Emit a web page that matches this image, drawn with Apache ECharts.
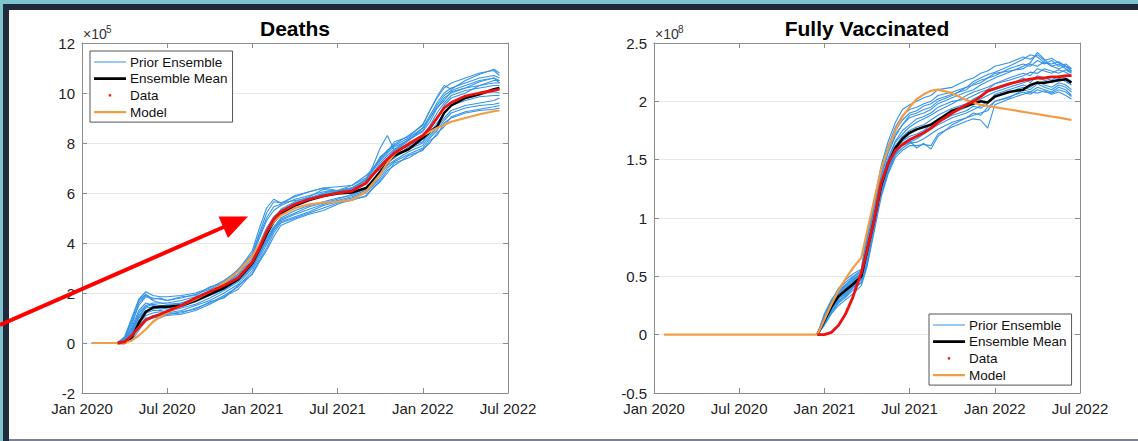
<!DOCTYPE html>
<html><head><meta charset="utf-8">
<script src="https://cdn.jsdelivr.net/npm/echarts@6/dist/echarts.min.js"></script>
<style>
html,body{margin:0;padding:0;width:1138px;height:441px;overflow:hidden;background:#7ec4cc;}
#navy{position:absolute;left:3px;top:4px;width:1135px;height:437px;background:#1f2b3c;}
#white{position:absolute;left:9px;top:10px;width:1129px;height:429px;background:#fff;}
#gray{position:absolute;left:9px;top:439px;width:1129px;height:2px;background:#7c8093;}
#chart{position:absolute;left:0;top:0;width:1138px;height:441px;}
</style></head>
<body>
<div id="navy"></div><div id="white"></div><div id="gray"></div>
<div id="chart"></div>
<script>
// ---- tick labels (x in months since Jan 2020) ----
const xTickLabels = ['Jan 2020','Jul 2020','Jan 2021','Jul 2021','Jan 2022','Jul 2022'];

// ---- Deaths (units of 1e5) ----
const deathsMonths = [0.7,2.5,3.0,3.5,4.0,4.5,5.0,5.5,6.0,7,8,9,10,11,12,12.5,13,13.5,14,15,16,17,18,19,20,20.5,21,21.5,22,23,24,24.5,25,25.5,26,27,28,29,29.4];
const deathsData  = [null,0,0.05,0.3,0.62,0.92,1.05,1.15,1.27,1.5,1.8,2.05,2.3,2.6,3.25,3.8,4.45,4.95,5.25,5.55,5.75,5.88,6.0,6.08,6.4,6.75,7.05,7.35,7.6,7.95,8.3,8.6,9.0,9.4,9.62,9.88,10.0,10.1,10.15];
const deathsMean  = [null,0,0,0.2,0.8,1.25,1.42,1.45,1.45,1.5,1.7,1.95,2.2,2.55,3.2,3.75,4.35,4.85,5.15,5.5,5.72,5.88,5.98,6.02,6.2,6.5,6.85,7.2,7.5,7.75,8.2,8.45,8.65,9.2,9.5,9.8,9.95,10.15,10.2];
const deathsModel = [0,0,0,0.1,0.3,0.55,0.85,1.05,1.2,1.5,1.75,2.05,2.4,2.85,3.5,3.95,4.45,4.85,5.1,5.4,5.55,5.62,5.65,5.72,6.05,6.4,6.75,7.2,7.55,8.0,8.3,8.45,8.6,8.72,8.85,9.0,9.15,9.27,9.3];
const deathsEns1  = [0,0,0.25,1.0,1.75,2.05,1.9,1.85,1.85,1.9,2.0,2.2,2.5,2.9,3.7,4.6,5.4,5.75,5.6,5.85,6.05,6.2,6.25,6.3,6.6,7.0,7.4,7.7,7.9,8.2,8.6,9.1,9.6,10.0,10.2,10.4,10.6,10.7,10.6];
const deathsEns2  = [0,0,0.2,0.8,1.5,1.85,1.8,1.75,1.7,1.8,1.95,2.15,2.4,2.75,3.5,4.2,4.9,5.3,5.5,5.75,5.9,6.05,6.1,6.2,6.5,6.9,7.3,7.6,7.85,8.1,8.5,9.0,9.5,9.9,10.1,10.3,10.5,10.6,10.5];
const deathsEns3  = [0,0,0,0.1,0.5,0.9,1.0,1.05,1.1,1.15,1.3,1.55,1.85,2.15,2.8,3.3,3.8,4.4,4.8,5.0,5.2,5.4,5.6,5.7,5.9,6.2,6.5,6.9,7.1,7.5,7.7,8.1,8.3,8.8,9.0,9.2,9.3,9.35,9.4];
const deathsEns4  = [0,0,0.05,0.3,0.8,1.1,1.2,1.25,1.2,1.3,1.5,1.7,2.0,2.35,3.0,3.5,4.1,4.6,4.9,5.15,5.35,5.55,5.7,5.85,6.05,6.35,6.7,7.1,7.3,7.65,7.9,8.3,8.6,9.0,9.3,9.5,9.6,9.7,9.8];
const deathsEns5  = [0,0,0.1,0.5,1.2,1.5,1.6,1.6,1.55,1.6,1.75,2.0,2.3,2.65,3.3,3.9,4.5,4.95,5.25,5.5,5.7,5.9,6.0,6.1,6.35,6.7,7.1,7.4,7.7,8.0,8.3,8.7,9.2,9.6,9.9,10.1,10.2,10.3,10.3];
const deathsEns6  = [0,0,0.15,0.6,1.3,1.6,1.5,1.45,1.45,1.55,1.8,2.05,2.3,2.6,3.2,3.7,4.3,4.8,5.2,5.55,5.8,5.95,6.05,6.2,6.5,7.1,7.8,8.3,7.7,8.1,8.6,9.0,9.4,9.8,10.0,10.2,10.3,10.4,10.4];
const deathsEns7  = [0,0,0.1,0.7,1.6,1.9,1.7,1.6,1.6,1.7,1.85,2.1,2.45,2.85,3.6,4.4,5.2,5.65,5.6,5.7,5.8,5.95,6.05,6.15,6.4,6.7,7.0,7.3,7.6,7.9,8.2,8.5,9.0,9.5,9.8,10.0,10.3,10.5,10.5];
const deathsEns8  = [0,0,0.05,0.4,1.0,1.3,1.35,1.4,1.35,1.45,1.65,1.9,2.15,2.5,3.1,3.6,4.2,4.65,5.0,5.3,5.5,5.65,5.8,5.9,6.1,6.45,6.85,7.2,7.45,7.75,8.0,8.4,8.8,9.2,9.5,9.7,9.85,9.9,9.9];
const deathsEns9  = [0,0,0.15,0.55,1.1,1.45,1.55,1.5,1.5,1.6,1.8,2.05,2.35,2.7,3.4,4.0,4.6,5.05,5.3,5.6,5.8,6.0,6.1,6.2,6.55,6.95,7.35,7.7,7.95,8.3,8.7,9.3,9.8,10.2,10.4,10.6,10.8,10.9,10.7];
const deathsEns10 = [0,0,0.05,0.25,0.7,1.0,1.05,1.1,1.15,1.2,1.4,1.6,1.9,2.25,2.9,3.4,3.95,4.5,4.85,5.05,5.25,5.5,5.65,5.8,6.0,6.3,6.6,7.0,7.25,7.55,7.8,8.2,8.5,8.9,9.2,9.4,9.5,9.55,9.6];
const deathsEns11 = [0,0,0.2,0.9,1.7,1.95,1.75,1.8,1.7,1.85,1.9,2.25,2.4,2.95,3.55,4.3,5.0,5.45,5.55,5.9,6.05,6.2,6.1,6.3,6.7,6.95,7.45,7.65,8.05,8.25,8.75,9.3,9.85,10.3,10.15,10.5,10.75,10.95,10.8];
const deathsEns12 = [0,0,0.02,0.2,0.65,0.95,1.1,1.0,1.15,1.25,1.35,1.65,1.8,2.3,2.75,3.25,3.7,4.25,4.7,4.95,5.15,5.3,5.55,5.75,5.85,6.2,6.45,6.8,7.2,7.4,7.75,8.0,8.4,8.65,9.05,9.25,9.35,9.45,9.5];
const deathsEns13 = [0,0,0.12,0.45,1.05,1.4,1.45,1.35,1.4,1.55,1.7,1.95,2.25,2.55,3.3,3.85,4.5,4.9,5.35,5.65,5.85,6.15,6.05,6.2,6.4,6.8,7.2,7.5,7.75,8.15,8.45,8.85,9.4,9.7,10.05,10.2,10.45,10.6,10.4];
const deathsEns14 = [0,0,0.03,0.35,0.9,1.2,1.3,1.3,1.25,1.4,1.55,1.8,2.1,2.45,3.05,3.55,4.05,4.55,4.95,5.2,5.45,5.6,5.75,5.95,6.15,6.55,6.9,7.25,7.4,7.85,8.05,8.55,8.95,9.4,9.6,9.8,10.0,10.05,10.0];
const deathsEnsemble = [deathsEns1,deathsEns2,deathsEns3,deathsEns4,deathsEns5,deathsEns6,deathsEns7,deathsEns8,deathsEns9,deathsEns10,deathsEns11,deathsEns12,deathsEns13,deathsEns14];

// ---- Fully vaccinated (units of 1e8) ----
const vaxMonths = [0.7,11.5,12.0,12.5,13.0,13.5,14.0,14.6,15.0,15.5,16.0,16.5,17.0,17.5,18.0,18.5,19.0,19.5,20.0,21.0,22.0,22.5,23.0,23.5,24.0,25.0,26.0,26.5,27.0,27.5,28.0,28.5,29.0,29.4];
const vaxData  = [null,0,0,0.02,0.08,0.18,0.32,0.53,0.72,0.98,1.3,1.47,1.58,1.63,1.67,1.7,1.73,1.77,1.82,1.9,1.97,2.0,2.04,2.09,2.11,2.15,2.18,2.19,2.2,2.2,2.21,2.21,2.22,2.22];
const vaxMean  = [null,0,0.12,0.24,0.33,0.38,0.43,0.5,0.72,0.98,1.28,1.47,1.6,1.68,1.73,1.76,1.78,1.8,1.84,1.92,1.96,1.98,2.0,1.99,2.04,2.08,2.1,2.14,2.16,2.16,2.17,2.18,2.19,2.16];
const vaxModel = [0,0,0.13,0.26,0.38,0.48,0.57,0.66,0.88,1.15,1.42,1.6,1.75,1.87,1.95,2.02,2.06,2.09,2.1,2.07,2.01,1.99,1.97,1.96,1.95,1.93,1.91,1.9,1.89,1.88,1.87,1.86,1.85,1.84];
const vaxEns1  = [null,0,0.18,0.3,0.38,0.45,0.5,0.55,0.85,1.12,1.42,1.62,1.78,1.88,1.93,1.95,1.98,2.0,2.05,2.08,2.12,2.17,2.2,2.23,2.25,2.3,2.36,2.4,2.38,2.33,2.32,2.34,2.3,2.26];
const vaxEns2  = [null,0,0.08,0.18,0.25,0.3,0.35,0.42,0.58,0.88,1.18,1.38,1.52,1.58,1.62,1.62,1.63,1.62,1.72,1.78,1.83,1.85,1.84,1.77,1.97,2.02,2.06,2.08,2.07,2.09,2.06,2.08,2.05,2.02];
const vaxEns3  = [null,0,0.12,0.24,0.32,0.38,0.44,0.5,0.7,1.0,1.3,1.5,1.65,1.72,1.78,1.82,1.85,1.88,1.92,1.98,2.05,2.08,2.1,2.12,2.15,2.2,2.24,2.22,2.28,2.26,2.24,2.27,2.25,2.22];
const vaxEns4  = [null,0,0.1,0.2,0.28,0.34,0.4,0.47,0.62,0.92,1.22,1.42,1.56,1.62,1.65,1.68,1.72,1.76,1.8,1.86,1.9,1.93,1.96,2.0,2.05,2.08,2.12,2.1,2.15,2.12,2.1,2.14,2.12,2.08];
const vaxEns5  = [null,0,0.15,0.27,0.36,0.42,0.47,0.53,0.78,1.06,1.36,1.56,1.7,1.8,1.86,1.88,1.9,1.93,1.98,2.03,2.08,2.1,2.14,2.17,2.2,2.25,2.3,2.33,2.42,2.36,2.3,2.32,2.28,2.25];
const vaxEns6  = [null,0,0.11,0.22,0.3,0.36,0.42,0.48,0.66,0.96,1.26,1.46,1.6,1.66,1.7,1.72,1.75,1.8,1.85,1.9,1.95,1.98,2.02,2.05,2.08,2.12,2.16,2.18,2.2,2.18,2.16,2.2,2.17,2.14];
const vaxEns7  = [null,0,0.14,0.26,0.35,0.4,0.46,0.52,0.74,1.04,1.34,1.52,1.66,1.75,1.8,1.85,1.87,1.9,1.95,2.0,2.02,2.05,2.08,2.1,2.15,2.18,2.22,2.25,2.24,2.28,2.26,2.24,2.27,2.24];
const vaxEns8  = [null,0,0.09,0.19,0.27,0.32,0.38,0.45,0.6,0.9,1.2,1.4,1.54,1.6,1.64,1.65,1.68,1.72,1.76,1.82,1.86,1.88,1.9,1.92,2.0,2.04,2.08,2.06,2.1,2.08,2.07,2.1,2.08,2.04];
const vaxEns9  = [null,0,0.16,0.28,0.37,0.43,0.49,0.54,0.82,1.1,1.4,1.6,1.75,1.84,1.9,1.92,1.96,1.98,2.02,2.06,2.1,2.15,2.18,2.2,2.22,2.28,2.32,2.3,2.35,2.32,2.35,2.3,2.32,2.28];
const vaxEns10 = [null,0,0.13,0.25,0.33,0.39,0.45,0.51,0.72,1.02,1.32,1.5,1.62,1.7,1.75,1.78,1.8,1.84,1.88,1.94,1.98,2.02,2.05,2.08,2.1,2.14,2.2,2.16,2.22,2.2,2.18,2.22,2.2,2.17];
const vaxEns11 = [null,0,0.17,0.29,0.4,0.47,0.52,0.56,0.88,1.15,1.45,1.66,1.82,1.93,1.97,2.0,2.03,2.05,2.1,2.12,2.18,2.2,2.24,2.26,2.3,2.33,2.38,2.36,2.4,2.35,2.37,2.33,2.3,2.28];
const vaxEns12 = [null,0,0.1,0.21,0.29,0.33,0.4,0.44,0.6,0.9,1.22,1.4,1.55,1.63,1.66,1.6,1.64,1.59,1.7,1.8,1.86,1.9,1.88,1.95,2.0,2.03,2.1,2.08,2.12,2.1,2.08,2.12,2.1,2.05];
const vaxEns13 = [null,0,0.15,0.27,0.36,0.41,0.48,0.52,0.8,1.08,1.38,1.58,1.72,1.8,1.88,1.9,1.93,1.95,2.0,2.05,2.12,2.14,2.16,2.2,2.24,2.26,2.28,2.32,2.3,2.34,2.3,2.28,2.3,2.26];
const vaxEns14 = [null,0,0.1,0.22,0.31,0.35,0.41,0.49,0.64,0.94,1.24,1.44,1.58,1.64,1.68,1.7,1.74,1.78,1.82,1.88,1.92,1.96,1.94,1.98,2.06,2.1,2.14,2.12,2.17,2.14,2.12,2.16,2.14,2.1];
const vaxEnsemble = [vaxEns1,vaxEns2,vaxEns3,vaxEns4,vaxEns5,vaxEns6,vaxEns7,vaxEns8,vaxEns9,vaxEns10,vaxEns11,vaxEns12,vaxEns13,vaxEns14];

// ---- styling ----
const FONT = '"Liberation Sans", Arial, Helvetica, sans-serif';
const C_ENS = '#3594e6', C_MEAN = '#000000', C_DATA = '#ee1111', C_MODEL = '#f19d45';
const AX = '#8c8c8c';

function pairs(xs, ys){ return xs.map((x,i)=>[x, ys[i]]); }
function lineIcon(t){
  const a=(7-t/2).toFixed(2), b=(7+t/2).toFixed(2);
  return 'path://M0,0L32,0L32,0.01L0,0.01Z M0,'+a+'L32,'+a+'L32,'+b+'L0,'+b+'Z M0,13.99L32,13.99L32,14L0,14Z';
}
const dotIcon = 'path://M0,0L32,0L32,0.01L0,0.01Z M14.8,5.8L17.2,5.8L17.2,8.2L14.8,8.2Z M0,13.99L32,13.99L32,14L0,14Z';

const grids = [
  {left:82, top:43, width:426, height:350},
  {left:654, top:43, width:426, height:350}
];
const yScales = [{min:-2,max:12,interval:2},{min:-0.5,max:2.5,interval:0.5}];

const xAxes = [], yAxes = [];
[0,1].forEach(g=>{
  xAxes.push({gridIndex:g,type:'value',min:0,max:30,interval:6,position:'bottom',
    axisLine:{show:true,onZero:false,lineStyle:{color:AX,width:1}},
    axisTick:{show:true,inside:true,length:5,lineStyle:{color:AX}},
    axisLabel:{show:true,formatter:v=>xTickLabels[Math.round(v/6)],fontSize:15,color:'#222',margin:8,fontFamily:FONT},
    splitLine:{show:false}});
  xAxes.push({gridIndex:g,type:'value',min:0,max:30,interval:6,position:'top',
    axisLine:{show:true,onZero:false,lineStyle:{color:AX,width:1}},
    axisTick:{show:true,inside:true,length:5,lineStyle:{color:AX}},
    axisLabel:{show:false},splitLine:{show:false}});
  yAxes.push(Object.assign({gridIndex:g,type:'value',position:'left',
    axisLine:{show:true,onZero:false,lineStyle:{color:AX,width:1}},
    axisTick:{show:true,inside:true,length:5,lineStyle:{color:AX}},
    axisLabel:{show:true,fontSize:15,color:'#222',margin:7,fontFamily:FONT},
    splitLine:{show:true,lineStyle:{color:'#e8e8e8',width:1}}}, yScales[g]));
  yAxes.push(Object.assign({gridIndex:g,type:'value',position:'right',
    axisLine:{show:true,onZero:false,lineStyle:{color:AX,width:1}},
    axisTick:{show:true,inside:true,length:5,lineStyle:{color:AX}},
    axisLabel:{show:false},splitLine:{show:false}}, yScales[g]));
});

function lineSeries(name, xs, ys, g, color, width, z){
  return {type:'line', name, xAxisIndex:g*2, yAxisIndex:g*2, data:pairs(xs,ys),
    symbol:'none', showSymbol:false, color, lineStyle:{color, width}, z,
    animation:false, silent:true, connectNulls:false};
}
const series = [];
[[deathsMonths, deathsEnsemble, deathsMean, deathsModel, deathsData],
 [vaxMonths, vaxEnsemble, vaxMean, vaxModel, vaxData]].forEach((set,g)=>{
  const [xs, ens, mean, model, data] = set;
  ens.forEach(e=>series.push(lineSeries('Prior Ensemble', xs, e, g, C_ENS, 1.1, 2)));
  series.push(lineSeries('Ensemble Mean', xs, mean, g, C_MEAN, 2.5, 3));
  series.push(lineSeries('Model', xs, model, g, C_MODEL, 2.2, 4));
  series.push(lineSeries('Data', xs, data, g, C_DATA, 2.8, 5));
});

const legendData = [
  {name:'Prior Ensemble', icon:lineIcon(1.2)},
  {name:'Ensemble Mean', icon:lineIcon(2.8)},
  {name:'Data', icon:dotIcon},
  {name:'Model', icon:lineIcon(2.2)}
];
function legendAt(left, top){
  return {left, top, orient:'vertical', data:legendData, itemWidth:32, itemHeight:14, itemGap:2.7,
    padding:[4,5,3,4], backgroundColor:'#fff', borderColor:'#555', borderWidth:1, borderRadius:0,
    selectedMode:false, itemStyle:{borderWidth:0},
    textStyle:{fontSize:13.5, color:'#111', fontFamily:FONT, padding:[0,0,0,-1]}};
}

function txt(text, x, y, font, fill, align, valign){
  return {type:'text', x, y, z:50, silent:true,
    style:{text, font, fill, align, verticalAlign:valign, textAlign:align, textVerticalAlign:valign}};
}
const graphic = [
  txt('Deaths', 295, 28, 'bold 21px '+FONT, '#000', 'center', 'middle'),
  txt('Fully Vaccinated', 867, 28, 'bold 21px '+FONT, '#000', 'center', 'middle'),
  txt('\u00d710', 83, 34, '14px '+FONT, '#333', 'left', 'middle'),
  txt('5', 106, 29, '10px '+FONT, '#333', 'left', 'middle'),
  txt('\u00d710', 655, 34, '14px '+FONT, '#333', 'left', 'middle'),
  txt('8', 678, 29, '10px '+FONT, '#333', 'left', 'middle'),
  {type:'line', z:60, silent:true, shape:{x1:0,y1:325,x2:226,y2:226}, style:{stroke:'#ff0000', lineWidth:4}},
  {type:'polygon', z:61, silent:true, shape:{points:[[248,216.5],[218.5,216.5],[228,238]]}, style:{fill:'#ff0000'}}
];

const chart = echarts.init(document.getElementById('chart'), null, {renderer:'svg', width:1138, height:441});
chart.setOption({
  backgroundColor:'transparent',
  animation:false,
  grid:grids,
  xAxis:xAxes,
  yAxis:yAxes,
  legend:[legendAt(90,51), legendAt(929,314)],
  series,
  graphic
});
</script>
</body></html>
